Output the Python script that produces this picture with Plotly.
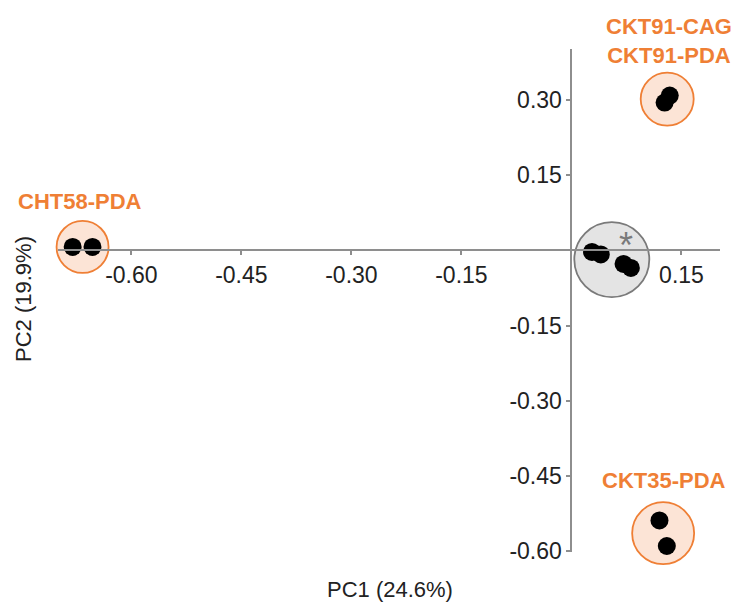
import plotly.graph_objects as go

# ---- data ----
groups = ["CHT58-PDA", "CTRL", "CKT91", "CKT35-PDA"]
pc1 = {
    "CHT58-PDA": [-0.680, -0.653],
    "CTRL": [0.028, 0.040, 0.071, 0.081],
    "CKT91": [0.127, 0.134],
    "CKT35-PDA": [0.120, 0.130],
}
pc2 = {
    "CHT58-PDA": [0.007, 0.007],
    "CTRL": [-0.003, -0.008, -0.027, -0.035],
    "CKT91": [0.295, 0.309],
    "CKT35-PDA": [-0.539, -0.590],
}
label_text = ["CHT58-PDA", "CKT91-CAG<br>CKT91-PDA", "CKT35-PDA"]
label_x = [-0.670, 0.133, 0.126]
label_y = [0.098, 0.418, -0.459]

x_tickvals = [-0.60, -0.45, -0.30, -0.15, 0.15]
x_ticktext = ["-0.60", "-0.45", "-0.30", "-0.15", "0.15"]
y_tickvals = [0.30, 0.15, -0.15, -0.30, -0.45, -0.60]
y_ticktext = ["0.30", "0.15", "-0.15", "-0.30", "-0.45", "-0.60"]

x_title = "PC1 (24.6%)"
y_title = "PC2 (19.9%)"

# ---- styles ----
ORANGE = "#EF7F35"
PEACH = "#FCE4D6"
GRAY_FILL = "#E4E4E4"
GRAY_LINE = "#7A7A7A"
AXIS = "#8E8E8E"
FONT = "Liberation Sans, Arial, sans-serif"
circle_size = {"CHT58-PDA": 52, "CTRL": 75, "CKT91": 53, "CKT35-PDA": 62}

XR = [-0.700, 0.2025]
YR = [-0.602, 0.402]


def to_px(v):
    return (v - XR[0]) / (XR[1] - XR[0])


def to_py(v):
    return (v - YR[0]) / (YR[1] - YR[0])


fig = go.Figure()

for g in groups:
    xs, ys = pc1[g], pc2[g]
    cx = sum(xs) / len(xs)
    cy = sum(ys) / len(ys)
    is_ctrl = g == "CTRL"
    fig.add_trace(go.Scatter(
        x=[cx], y=[cy], mode="markers", cliponaxis=False, hoverinfo="skip",
        marker=dict(size=circle_size[g],
                    color=GRAY_FILL if is_ctrl else PEACH,
                    line=dict(color=GRAY_LINE if is_ctrl else ORANGE, width=1.8)),
        showlegend=False))

for g in groups:
    fig.add_trace(go.Scatter(
        x=pc1[g], y=pc2[g], mode="markers", cliponaxis=False, name=g,
        marker=dict(size=18, color="black", line=dict(width=0)),
        showlegend=False))

for t, lx, ly in zip(label_text, label_x, label_y):
    fig.add_annotation(x=to_px(lx), y=to_py(ly), xref="paper", yref="paper",
                       text=t, showarrow=False,
                       font=dict(family=FONT, size=22, color=ORANGE, weight="bold"),
                       xanchor="center", yanchor="middle", align="center")

# asterisk in control cluster
fig.add_annotation(x=0.074, y=0.010, text="*", showarrow=False,
                   font=dict(family=FONT, size=36, color=GRAY_LINE),
                   xanchor="center", yanchor="middle")

# axis titles
fig.add_annotation(x=0.5015, y=-0.075, xref="paper", yref="paper", text=x_title,
                   showarrow=False, font=dict(family=FONT, size=22, color="#222"),
                   xanchor="center", yanchor="middle")
fig.add_annotation(x=-0.0514, y=0.503, xref="paper", yref="paper", text=y_title,
                   showarrow=False, textangle=-90,
                   font=dict(family=FONT, size=22, color="#222"),
                   xanchor="center", yanchor="middle")

fig.update_layout(
    width=731, height=595,
    margin=dict(l=50, r=19, t=41, b=51),
    paper_bgcolor="white", plot_bgcolor="white",
    font=dict(family=FONT, size=23, color="#222"),
    xaxis=dict(range=XR, anchor="free", position=to_py(0),
               showgrid=False, zeroline=False, showline=True,
               linecolor=AXIS, linewidth=2,
               tickmode="array", tickvals=x_tickvals, ticktext=x_ticktext,
               ticks="outside", ticklen=4, tickwidth=1.5, tickcolor=AXIS,
               tickfont=dict(family=FONT, size=23, color="#222")),
    yaxis=dict(range=YR, anchor="free", position=to_px(0),
               showgrid=False, zeroline=False, showline=True,
               linecolor=AXIS, linewidth=2,
               tickmode="array", tickvals=y_tickvals, ticktext=y_ticktext,
               ticks="outside", ticklen=4, tickwidth=1.5, tickcolor=AXIS,
               tickfont=dict(family=FONT, size=23, color="#222")),
)

fig.write_html("out.html")
